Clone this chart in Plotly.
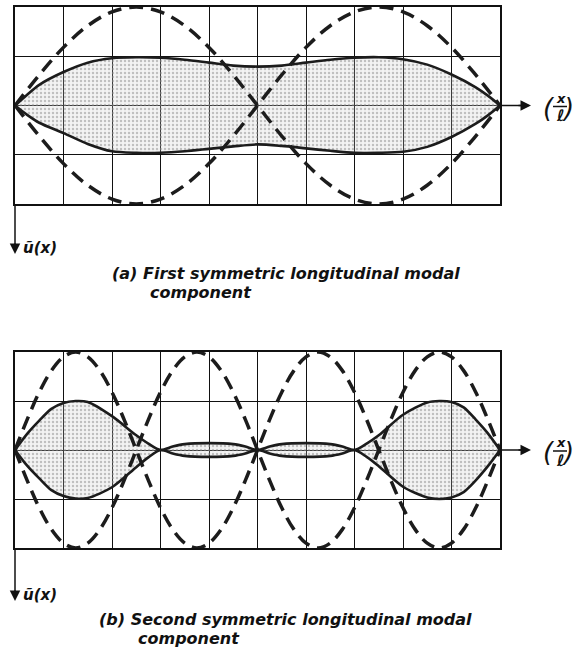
import plotly.graph_objects as go

W, H = 577, 653

# ---- data (x in tenths of the span, amplitude in grid units) ----
x_a = [0, 0.25, 0.5, 1, 1.5, 2, 2.5, 3, 3.5, 4, 4.5, 5, 5.5, 6, 6.5, 7, 7.5, 8, 8.5, 9, 9.5, 9.75, 10]
upper_a = [0, 0.22, 0.42, 0.68, 0.87, 0.96, 0.98, 0.97, 0.93, 0.87, 0.81, 0.79, 0.81, 0.87, 0.93, 0.97, 0.98, 0.94, 0.83, 0.63, 0.37, 0.2, 0]
lower_a = [0, -0.19, -0.35, -0.56, -0.78, -0.93, -0.96, -0.96, -0.93, -0.88, -0.83, -0.79, -0.82, -0.87, -0.92, -0.96, -0.96, -0.94, -0.84, -0.64, -0.37, -0.2, 0]

x_b = [0, 0.25, 0.5, 0.75, 1, 1.25, 1.5, 2, 2.5, 2.75, 3, 3.25, 3.5, 4, 4.5, 4.75, 5,
       5.25, 5.5, 6, 6.5, 6.75, 7, 7.25, 7.5, 8, 8.5, 8.75, 9, 9.25, 9.5, 9.75, 10]
upper_b = [0, 0.33, 0.6, 0.84, 0.96, 1.0, 0.98, 0.69, 0.3, 0.13, 0, 0.07, 0.12, 0.14, 0.12, 0.07, 0,
           0.07, 0.12, 0.14, 0.12, 0.07, 0, 0.13, 0.3, 0.72, 0.97, 1.0, 0.98, 0.87, 0.62, 0.34, 0]
lower_b = [0, -0.32, -0.58, -0.82, -0.94, -0.99, -0.98, -0.76, -0.35, -0.15, 0, -0.07, -0.12, -0.14, -0.12, -0.07, 0,
           -0.07, -0.12, -0.14, -0.12, -0.07, 0, -0.14, -0.33, -0.75, -0.97, -1.0, -0.97, -0.86, -0.62, -0.33, 0]

# modal shape (dashed), sampled along the span
x_mode_a = [0, 0.5, 1, 1.5, 2, 2.5, 3, 3.5, 4, 4.5, 5, 5.5, 6, 6.5, 7, 7.5, 8, 8.5, 9, 9.5, 10]
mode_a = [0, 0.62, 1.18, 1.62, 1.9, 2.0, 1.9, 1.62, 1.18, 0.62, 0,
          -0.62, -1.18, -1.62, -1.9, -2.0, -1.9, -1.62, -1.18, -0.62, 0]
x_mode_b = [0, 0.25, 0.5, 0.75, 1, 1.25, 1.5, 1.75, 2, 2.25, 2.5, 2.75, 3, 3.25, 3.5, 3.75, 4, 4.25, 4.5, 4.75, 5,
            5.25, 5.5, 5.75, 6, 6.25, 6.5, 6.75, 7, 7.25, 7.5, 7.75, 8, 8.25, 8.5, 8.75, 9, 9.25, 9.5, 9.75, 10]
mode_b = [0, 0.62, 1.18, 1.62, 1.9, 2.0, 1.9, 1.62, 1.18, 0.62, 0,
          -0.62, -1.18, -1.62, -1.9, -2.0, -1.9, -1.62, -1.18, -0.62, 0,
          0.62, 1.18, 1.62, 1.9, 2.0, 1.9, 1.62, 1.18, 0.62, 0,
          -0.62, -1.18, -1.62, -1.9, -2.0, -1.9, -1.62, -1.18, -0.62, 0]

captions_a = ["(a) First symmetric longitudinal modal", "component"]
captions_b = ["(b) Second symmetric longitudinal modal", "component"]


def px(x):
    return x / W


def py(y):
    return 1 - y / H


# panel pixel frames
PL, PR = 15, 500
panels = [
    dict(top=7, bot=204, xs="x", ys="y", ylab=248, cap=((110, 273), (148, 292))),
    dict(top=352, bot=548, xs="x2", ys="y2", ylab=595, cap=((97, 619), (136, 638))),
]

fig = go.Figure()

INK = "#1c1c1c"
fill_pattern = dict(shape=".", size=4, solidity=0.3, fgcolor="#8c8c8c", bgcolor="rgba(200,200,200,0.22)")


def add_panel(p, xs, up, lo, xm, mode):
    # shaded envelope
    fig.add_trace(go.Scatter(
        x=xs + xs[::-1], y=up + lo[::-1], xaxis=p["xs"], yaxis=p["ys"],
        mode="lines", line=dict(width=0, shape="spline", smoothing=0.8),
        fill="toself", fillcolor="rgba(0,0,0,0)", fillpattern=fill_pattern,
        hoverinfo="skip", showlegend=False))
    # dashed mode shape and its mirror
    for sgn in (1, -1):
        fig.add_trace(go.Scatter(
            x=xm, y=[sgn * v for v in mode], xaxis=p["xs"], yaxis=p["ys"],
            mode="lines", line=dict(color=INK, width=3.5, dash="14px,8px", shape="spline", smoothing=1),
            hoverinfo="skip", showlegend=False))
    # envelope outlines
    for env in (up, lo):
        fig.add_trace(go.Scatter(
            x=xs, y=env, xaxis=p["xs"], yaxis=p["ys"],
            mode="lines", line=dict(color=INK, width=2.6, shape="spline", smoothing=0.8),
            hoverinfo="skip", showlegend=False))


add_panel(panels[0], x_a, upper_a, lower_a, x_mode_a, mode_a)
add_panel(panels[1], x_b, upper_b, lower_b, x_mode_b, mode_b)

layout = dict(
    width=W, height=H, margin=dict(l=0, r=0, t=0, b=0),
    paper_bgcolor="white", plot_bgcolor="white", showlegend=False,
)
for i, p in enumerate(panels):
    sfx = "" if i == 0 else "2"
    layout["xaxis" + sfx] = dict(
        domain=[px(PL), px(PR)], range=[0, 10], dtick=1, tick0=0,
        showgrid=True, gridcolor="#111", gridwidth=1, zeroline=False,
        showline=True, linecolor="#111", linewidth=1.5, mirror=True,
        showticklabels=False, ticks="", anchor="y" + sfx, fixedrange=True)
    layout["yaxis" + sfx] = dict(
        domain=[py(p["bot"]), py(p["top"])], range=[-2, 2], dtick=1, tick0=0,
        showgrid=True, gridcolor="#111", gridwidth=1, zeroline=True,
        zerolinecolor="#111", zerolinewidth=1.2,
        showline=True, linecolor="#111", linewidth=1.5, mirror=True,
        showticklabels=False, ticks="", anchor="x" + sfx, fixedrange=True)

shapes = []
annotations = []
font_it = dict(family="DejaVu Sans, Verdana, sans-serif", color="#111", style="italic")

for p, caps in [(panels[0], captions_a), (panels[1], captions_b)]:
    mid = (p["top"] + p["bot"]) / 2
    ylab = p["ylab"]
    # horizontal axis continuation with arrow
    shapes.append(dict(type="line", xref="paper", yref="paper",
                       x0=px(PR), x1=px(522), y0=py(mid), y1=py(mid),
                       line=dict(color="#111", width=1.5)))
    annotations.append(dict(xref="paper", yref="paper", x=px(531), y=py(mid), text="",
                            showarrow=True, ax=-14, ay=0, arrowhead=2, arrowsize=1.4,
                            arrowwidth=1.5, arrowcolor="#111"))
    # vertical axis continuation with arrow
    shapes.append(dict(type="line", xref="paper", yref="paper",
                       x0=px(PL), x1=px(PL), y0=py(p["bot"]), y1=py(ylab - 3),
                       line=dict(color="#111", width=1.5)))
    annotations.append(dict(xref="paper", yref="paper", x=px(PL), y=py(ylab + 6), text="",
                            showarrow=True, ax=0, ay=-12, arrowhead=2, arrowsize=1.4,
                            arrowwidth=1.5, arrowcolor="#111"))
    # axis labels
    annotations.append(dict(xref="paper", yref="paper", x=px(21), y=py(ylab), text="ũ(x)",
                            showarrow=False, xanchor="left", yanchor="middle",
                            font=dict(size=15, weight="bold", **font_it)))
    annotations.append(dict(xref="paper", yref="paper", x=px(549), y=py(mid + 2), text="(",
                            showarrow=False, xanchor="center", yanchor="middle",
                            font=dict(size=26, **font_it)))
    annotations.append(dict(xref="paper", yref="paper", x=px(576), y=py(mid + 2), text=")",
                            showarrow=False, xanchor="right", yanchor="middle",
                            font=dict(size=26, **font_it)))
    annotations.append(dict(xref="paper", yref="paper", x=px(561), y=py(mid - 7), text="x",
                            showarrow=False, xanchor="center", yanchor="middle",
                            font=dict(size=13, weight="bold", **font_it)))
    annotations.append(dict(xref="paper", yref="paper", x=px(560), y=py(mid + 10), text="ℓ",
                            showarrow=False, xanchor="center", yanchor="middle",
                            font=dict(size=16, weight="bold", **font_it)))
    shapes.append(dict(type="line", xref="paper", yref="paper",
                       x0=px(553), x1=px(567), y0=py(mid + 1), y1=py(mid + 1),
                       line=dict(color="#111", width=1.5)))
    # caption
    (cx1, cy1), (cx2, cy2) = p["cap"]
    annotations.append(dict(xref="paper", yref="paper", x=px(cx1), y=py(cy1),
                            text=caps[0], showarrow=False, xanchor="left", yanchor="middle",
                            font=dict(size=16, weight="bold", **font_it)))
    annotations.append(dict(xref="paper", yref="paper", x=px(cx2), y=py(cy2),
                            text=caps[1], showarrow=False, xanchor="left", yanchor="middle",
                            font=dict(size=16, weight="bold", **font_it)))

layout["shapes"] = shapes
layout["annotations"] = annotations
fig.update_layout(**layout)
fig.write_html("out.html")
